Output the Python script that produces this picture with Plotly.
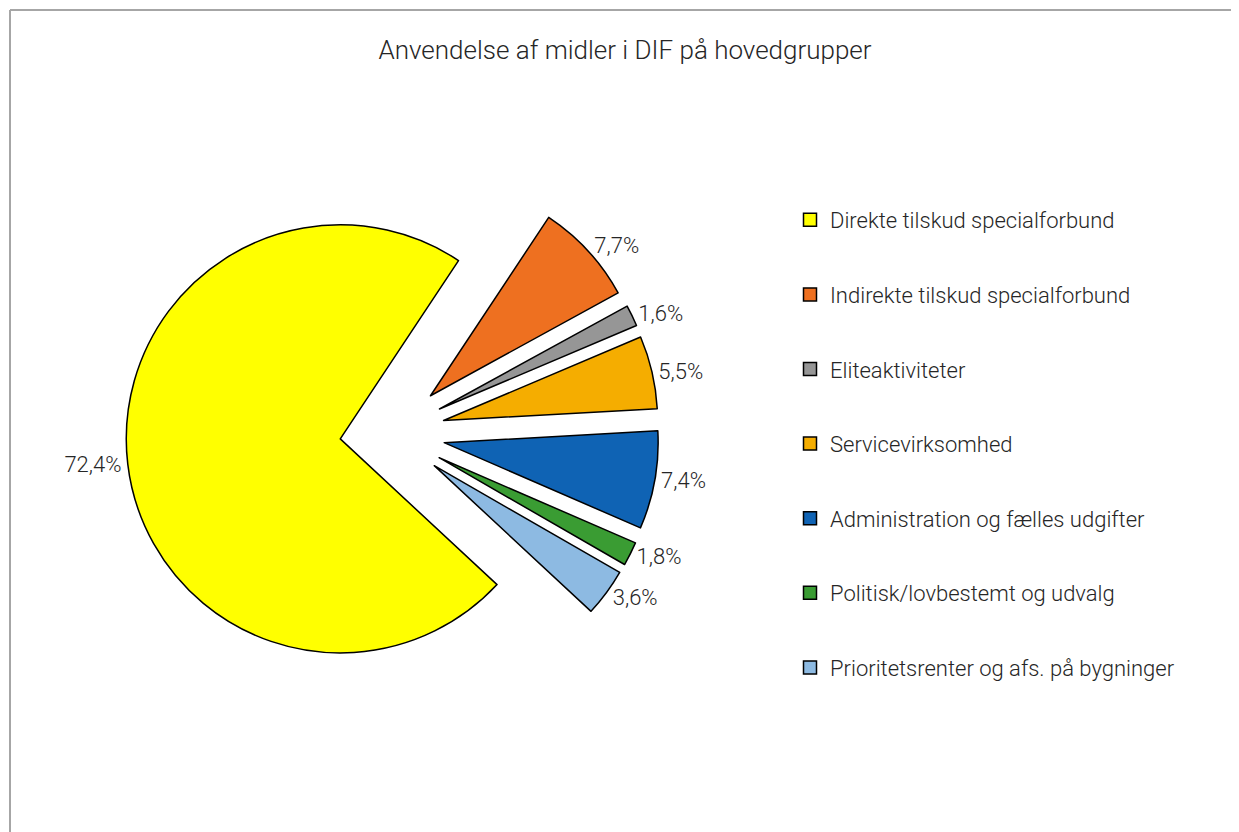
import plotly.graph_objects as go

categories = [
    "Direkte tilskud specialforbund",
    "Indirekte tilskud specialforbund",
    "Eliteaktiviteter",
    "Servicevirksomhed",
    "Administration og fælles udgifter",
    "Politisk/lovbestemt og udvalg",
    "Prioritetsrenter og afs. på bygninger",
]
values = [72.4, 7.7, 1.6, 5.5, 7.4, 1.8, 3.6]
value_labels = ["72,4%", "7,7%", "1,6%", "5,5%", "7,4%", "1,8%", "3,6%"]
colors = ["#FFFF00", "#EE7020", "#969696", "#F5AD00", "#0F63B4", "#3A9C33", "#8DBAE2"]
pulls = [0.234, 0.257, 0.257, 0.257, 0.257, 0.257, 0.257]

FONT = "Roboto"
W, H = 1239, 832

fig = go.Figure()
fig.add_trace(go.Pie(
    labels=categories,
    values=values,
    text=value_labels,
    textinfo="text",
    textposition="outside",
    textfont=dict(family=FONT, size=22, color="#262626", weight=300),
    marker=dict(colors=colors, line=dict(color="#000000", width=1.5)),
    pull=pulls,
    sort=False,
    direction="clockwise",
    rotation=132.9,
    showlegend=False,
    hoverinfo="label+text",
    domain=dict(x=[113 / W, 651 / W], y=[138 / H, 676 / H]),
))

for i, (cat, col) in enumerate(zip(categories, colors)):
    fig.add_trace(go.Scatter(
        x=[None], y=[None], mode="markers", name=cat,
        legendgroup="g%d" % i,
        marker=dict(symbol="square", size=13, color=col,
                    line=dict(color="#000000", width=1.5)),
        showlegend=True,
    ))

fig.update_layout(
    width=W, height=H,
    margin=dict(l=0, r=0, t=0, b=0, autoexpand=False),
    paper_bgcolor="white", plot_bgcolor="white",
    font=dict(family=FONT, color="#262626"),
    title=dict(text="Anvendelse af midler i DIF på hovedgrupper",
               x=617 / W, xanchor="center", y=1 - 42 / H, yanchor="middle",
               font=dict(family=FONT, size=26, color="#262626", weight=300)),
    xaxis=dict(visible=False), yaxis=dict(visible=False),
    legend=dict(x=782 / W, xanchor="left", y=1 - 191 / H, yanchor="top",
                font=dict(family=FONT, size=22, color="#262626", weight=300),
                tracegroupgap=43, bgcolor="rgba(0,0,0,0)"),
    shapes=[
        dict(type="line", xref="paper", yref="paper", x0=2 / W, x1=1.01,
             y0=1 - 2 / H, y1=1 - 2 / H, line=dict(color="#A6A6A6", width=2)),
        dict(type="line", xref="paper", yref="paper", x0=2 / W, x1=2 / W,
             y0=-0.01, y1=1 - 2 / H, line=dict(color="#A6A6A6", width=2)),
    ],
)

fig.write_html("out.html")
